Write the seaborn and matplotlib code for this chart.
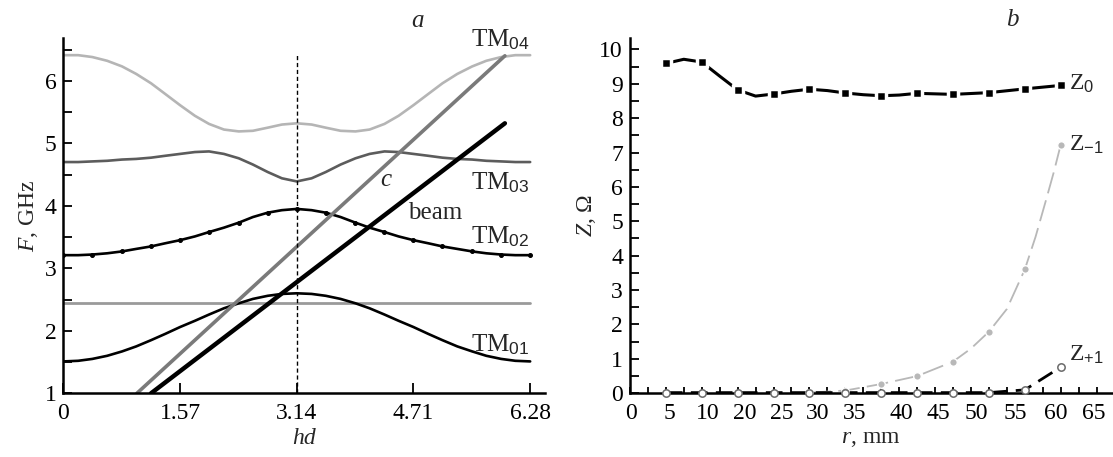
import matplotlib
matplotlib.use("Agg")
import matplotlib.pyplot as plt
import seaborn as sns
from matplotlib.ticker import MultipleLocator, FixedLocator

# panel a: dispersion curves, F (GHz) vs hd
hd = [0, 0.20, 0.39, 0.59, 0.79, 0.98, 1.18, 1.37, 1.57, 1.77, 1.96, 2.16, 2.36, 2.55, 2.75, 2.94,
      3.14, 3.34, 3.53, 3.73, 3.93, 4.12, 4.32, 4.51, 4.71, 4.91, 5.10, 5.30, 5.50, 5.69, 5.89, 6.08, 6.28]
tm01 = [1.51, 1.52, 1.55, 1.60, 1.67, 1.75, 1.85, 1.95, 2.06, 2.16, 2.26, 2.36, 2.44, 2.51, 2.56, 2.59,
        2.60, 2.59, 2.56, 2.51, 2.44, 2.36, 2.26, 2.16, 2.06, 1.95, 1.85, 1.75, 1.67, 1.60, 1.55, 1.52, 1.51]
tm02 = [3.21, 3.21, 3.22, 3.24, 3.27, 3.31, 3.35, 3.40, 3.45, 3.51, 3.58, 3.65, 3.73, 3.82, 3.89, 3.93,
        3.95, 3.93, 3.89, 3.82, 3.73, 3.65, 3.58, 3.51, 3.45, 3.40, 3.35, 3.31, 3.27, 3.24, 3.22, 3.21, 3.21]
tm03 = [4.70, 4.70, 4.71, 4.72, 4.74, 4.75, 4.77, 4.80, 4.83, 4.86, 4.87, 4.83, 4.76, 4.66, 4.54, 4.44,
        4.39, 4.44, 4.54, 4.66, 4.76, 4.83, 4.87, 4.86, 4.83, 4.80, 4.77, 4.75, 4.74, 4.72, 4.71, 4.70, 4.70]
tm04 = [6.41, 6.41, 6.38, 6.32, 6.23, 6.11, 5.96, 5.79, 5.61, 5.44, 5.31, 5.22, 5.19, 5.20, 5.25, 5.30,
        5.32, 5.30, 5.25, 5.20, 5.19, 5.22, 5.31, 5.44, 5.61, 5.79, 5.96, 6.11, 6.23, 6.32, 6.38, 6.41, 6.41]
flat_hd = [0, 6.28]
flat_f = [2.45, 2.45]
light_hd = [0.99, 5.94]
light_f = [1.0, 6.40]
beam_hd = [1.18, 5.94]
beam_f = [1.0, 5.32]
hd_ticks = [0, 1.57, 3.14, 4.71, 6.28]

# panel b: impedance vs r (mm)
r = [5, 10, 15, 20, 25, 30, 35, 40, 45, 50, 55, 60]
z0 = [9.59, 9.63, 8.82, 8.70, 8.84, 8.73, 8.65, 8.72, 8.69, 8.74, 8.85, 8.95]
z0_curve_r = [5, 7.5, 10, 12.5, 15, 17.5, 20, 22.5, 25, 27.5, 30, 32.5, 35, 37.5, 40, 45, 50, 55, 60]
z0_curve = [9.59, 9.71, 9.63, 9.22, 8.82, 8.64, 8.70, 8.78, 8.84, 8.80, 8.73, 8.68, 8.65, 8.67, 8.72, 8.69, 8.74, 8.85, 8.95]
zm1 = [0.0, 0.0, 0.0, 0.0, 0.02, 0.08, 0.27, 0.50, 0.92, 1.79, 3.60, 7.22]
zm1_curve_r = [25, 30, 35, 40, 45, 47.5, 50, 52.5, 55, 56.5, 58, 59, 60]
zm1_curve = [0.02, 0.08, 0.27, 0.50, 0.92, 1.30, 1.79, 2.45, 3.60, 4.55, 5.65, 6.40, 7.22]
zp1 = [0.02, 0.02, 0.02, 0.02, 0.02, 0.02, 0.02, 0.02, 0.02, 0.02, 0.10, 0.76]
r_tick_pos = [0.1, 5.45, 10.9, 16.0, 21.1, 26.2, 31.3, 37.8, 43.0, 48.3, 53.7, 59.3, 64.6]
r_tick_labels = ["0", "5", "10", "20", "25", "30", "35", "40", "45", "50", "55", "60", "65"]

sns.set_style("ticks")
plt.rcParams["font.family"] = ["Liberation Serif", "DejaVu Serif"]
plt.rcParams["mathtext.fontset"] = "custom"
plt.rcParams["mathtext.rm"] = "Liberation Serif"
plt.rcParams["mathtext.it"] = "Liberation Serif:italic"
plt.rcParams["mathtext.sf"] = "Liberation Sans"

fig = plt.figure(figsize=(11.13, 4.57), dpi=100)
ax1 = fig.add_axes([0.0569, 0.1394, 0.4328, 0.7768])
ax2 = fig.add_axes([0.566, 0.1394, 0.4328, 0.7768])

# ---- panel a
sns.lineplot(x=flat_hd, y=flat_f, ax=ax1, color="#9a9a9a", lw=2.0, sort=False, estimator=None)
sns.lineplot(x=hd, y=tm04, ax=ax1, color="#b5b5b5", lw=1.9, sort=False, estimator=None)
sns.lineplot(x=hd, y=tm03, ax=ax1, color="#5c5c5c", lw=1.9, sort=False, estimator=None)
sns.lineplot(x=hd, y=tm02, ax=ax1, color="black", lw=1.9, marker="o", markersize=2.8,
             markeredgecolor="black", markerfacecolor="black", markevery=2,
             sort=False, estimator=None)
sns.lineplot(x=hd, y=tm01, ax=ax1, color="black", lw=1.9, sort=False, estimator=None)
sns.lineplot(x=light_hd, y=light_f, ax=ax1, color="#7a7a7a", lw=2.6, sort=False, estimator=None)
sns.lineplot(x=beam_hd, y=beam_f, ax=ax1, color="black", lw=3.2, sort=False, estimator=None,
             solid_capstyle="round")
ax1.vlines(3.14, 1.0, 6.41, colors="black", linestyles=(0, (3, 2)), lw=1.0)

ax1.set_xlim(0, 6.48)
ax1.set_ylim(1, 6.68)
ax1.set_xticks(hd_ticks)
ax1.set_xticklabels(["0", "1.57", "3.14", "4.71", "6.28"])
ax1.yaxis.set_major_locator(MultipleLocator(1))
ax1.yaxis.set_minor_locator(MultipleLocator(0.5))
ax1.set_xlabel("hd", fontsize=17, fontstyle="italic", labelpad=3)
ax1.set_ylabel("$F$, GHz", fontsize=17, labelpad=3)

lab = dict(fontsize=18, ha="right", va="center", clip_on=False)
ax1.text(6.27, 6.65, "TM$_\\mathsf{04}$", **lab)
ax1.text(6.27, 4.37, "TM$_\\mathsf{03}$", **lab)
ax1.text(6.27, 3.51, "TM$_\\mathsf{02}$", **lab)
ax1.text(6.27, 1.77, "TM$_\\mathsf{01}$", **lab)
ax1.text(4.34, 4.41, "c", fontsize=18, fontstyle="italic", ha="center", va="center")
ax1.text(4.64, 3.88, "beam", fontsize=18, ha="left", va="center")
ax1.text(4.77, 6.95, "a", fontsize=18, fontstyle="italic", ha="center", va="center", clip_on=False)

# ---- panel b
sns.lineplot(x=z0_curve_r, y=z0_curve, ax=ax2, color="black", lw=2.2, sort=False, estimator=None)
sns.scatterplot(x=r, y=z0, ax=ax2, marker="s", s=56, color="black", edgecolor="white",
                linewidth=2.5, zorder=3)
sns.lineplot(x=zm1_curve_r, y=zm1_curve, ax=ax2, color="#b8b8b8", lw=1.3, sort=False,
             estimator=None, linestyle=(0, (12, 4)))
sns.scatterplot(x=r[4:], y=zm1[4:], ax=ax2, marker="o", s=30, color="#b8b8b8", edgecolor="white",
                linewidth=1.0, zorder=3)
sns.lineplot(x=r, y=zp1, ax=ax2, color="black", lw=2.0, sort=False, estimator=None,
             linestyle=(0, (6, 3)))
sns.scatterplot(x=r, y=zp1, ax=ax2, marker="o", s=28, facecolor="white", edgecolor="#6a6a6a",
                linewidth=1.1, zorder=4, clip_on=False)

ax2.set_xlim(0, 67.1)
ax2.set_ylim(0, 10.32)
ax2.xaxis.set_major_locator(FixedLocator(r_tick_pos))
ax2.set_xticklabels(r_tick_labels)
ax2.xaxis.set_minor_locator(MultipleLocator(2.5))
ax2.yaxis.set_major_locator(MultipleLocator(1))
ax2.yaxis.set_minor_locator(MultipleLocator(0.5))
ax2.set_xlabel("$r$, mm", fontsize=17, labelpad=3)
ax2.set_ylabel("$Z$, Ω", fontsize=17, labelpad=1)

zl = dict(fontsize=17, ha="left", va="center", clip_on=False)
ax2.text(61.2, 9.01, "Z$_\\mathsf{0}$", **zl)
ax2.text(61.2, 7.22, "Z$_\\mathsf{-1}$", **zl)
ax2.text(61.2, 1.11, "Z$_\\mathsf{+1}$", **zl)
ax2.text(53.3, 10.85, "b", fontsize=18, fontstyle="italic", ha="center", va="center", clip_on=False)

for ax in (ax1, ax2):
    sns.despine(ax=ax)
    for s in ("left", "bottom"):
        ax.spines[s].set_linewidth(1.8)
        ax.spines[s].set_color("black")
    ax.tick_params(which="both", direction="in", width=1.3, colors="black", labelsize=17)
    ax.tick_params(axis="y", which="both", length=6.7, pad=5)
    ax.tick_params(axis="x", which="major", length=7, pad=7)

ax2.tick_params(axis="x", which="major", length=0, pad=7)
ax2.tick_params(axis="x", which="minor", length=4.3)

plt.savefig("out.png", dpi=100)
